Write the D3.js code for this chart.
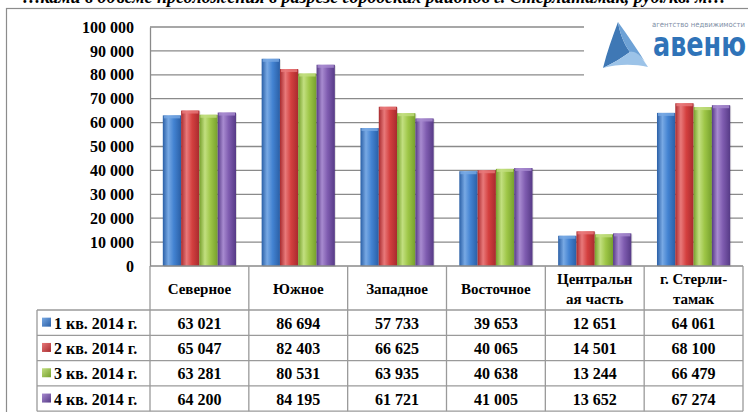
<!DOCTYPE html>
<html>
<head>
<meta charset="utf-8">
<script src="https://cdn.jsdelivr.net/npm/d3@7"></script>
<style>
  body { margin: 0; background: #fff; }
  svg { display: block; }
  text { font-family: "Liberation Serif", "Times New Roman", serif; font-weight: bold; fill: #000; }
</style>
</head>
<body>
<svg id="chart" width="748" height="412"></svg>
<script>
// данные графика
const districts = ["Северное", "Южное", "Западное", "Восточное", "Центральная часть", "г. Стерлитамак"];
const districtLines = [["Северное"], ["Южное"], ["Западное"], ["Восточное"], ["Центральн", "ая часть"], ["г. Стерли-", "тамак"]];
const quarters = ["1 кв. 2014 г.", "2 кв. 2014 г.", "3 кв. 2014 г.", "4 кв. 2014 г."];
const q1 = [63021, 86694, 57733, 39653, 12651, 64061];
const q2 = [65047, 82403, 66625, 40065, 14501, 68100];
const q3 = [63281, 80531, 63935, 40638, 13244, 66479];
const q4 = [64200, 84195, 61721, 41005, 13652, 67274];
const yTicks = [0, 10000, 20000, 30000, 40000, 50000, 60000, 70000, 80000, 90000, 100000];

const values = [q1, q2, q3, q4];
const colors = [
  { dark: "#2a5fa6", mid: "#4383d2", light: "#78a9e4" },
  { dark: "#a82a2e", mid: "#d4403f", light: "#e8797a" },
  { dark: "#76a02c", mid: "#9ec647", light: "#c2df80" },
  { dark: "#563a86", mid: "#7f5cb0", light: "#a88bd0" }
];

const svg = d3.select("#chart");
const fmt = v => d3.format(",")(v).replace(/,/g, " ");

// рамка и обрезанный заголовок
svg.append("text")
  .attr("x", 374).attr("y", 3)
  .attr("text-anchor", "middle")
  .style("font-style", "italic")
  .style("font-size", "18px")
  .text("…ками в объеме предложения в разрезе городских районов г. Стерлитамак, руб./кв. м…");

svg.append("rect")
  .attr("x", 6.5).attr("y", 8.5).attr("width", 760).attr("height", 420)
  .attr("fill", "#fff").attr("stroke", "#8c8c8c").attr("stroke-width", 1.2);

// области
const plotLeft = 150, plotRight = 743, plotTop = 27, plotBottom = 266;
const headTop = 266, headBottom = 310, rowH = 25.3, labelLeft = 37;

const x0 = d3.scaleBand().domain(districts).range([plotLeft, plotRight]).padding(0);
const x1 = d3.scaleBand().domain(d3.range(quarters.length)).range([0, x0.bandwidth()])
  .paddingInner(0).paddingOuter(0.7);
const y = d3.scaleLinear().domain([0, 100000]).range([plotBottom, plotTop]);

// градиенты
const defs = svg.append("defs");
colors.forEach((c, i) => {
  const g = defs.append("linearGradient").attr("id", "bar" + i)
    .attr("x1", "0%").attr("x2", "100%").attr("y1", "0%").attr("y2", "0%");
  g.append("stop").attr("offset", "0%").attr("stop-color", c.dark);
  g.append("stop").attr("offset", "30%").attr("stop-color", c.light);
  g.append("stop").attr("offset", "60%").attr("stop-color", c.mid);
  g.append("stop").attr("offset", "100%").attr("stop-color", c.dark);
  const k = defs.append("linearGradient").attr("id", "key" + i)
    .attr("x1", "0%").attr("x2", "100%").attr("y1", "0%").attr("y2", "100%");
  k.append("stop").attr("offset", "0%").attr("stop-color", c.light);
  k.append("stop").attr("offset", "100%").attr("stop-color", c.dark);
});

// сетка
svg.append("g")
  .selectAll("line").data(yTicks.filter(d => d > 0)).join("line")
  .attr("x1", plotLeft).attr("x2", plotRight)
  .attr("y1", d => y(d)).attr("y2", d => y(d))
  .attr("stroke", "#8a8a8a").attr("stroke-width", 1.3);

// ось Y
const yAxis = svg.append("g")
  .attr("transform", `translate(${plotLeft},0)`)
  .call(d3.axisLeft(y).tickValues(yTicks).tickSize(0).tickPadding(16).tickFormat(fmt));
yAxis.select(".domain").attr("stroke", "#8a8a8a").attr("stroke-width", 1.3);
yAxis.selectAll("text").style("font-size", "16px")
  .style("font-family", "'Liberation Serif', serif").style("font-weight", "bold");

// столбцы
const groups = svg.append("g").selectAll("g").data(districts).join("g")
  .attr("transform", d => `translate(${x0(d)},0)`);

groups.each(function (d, di) {
  const g = d3.select(this);
  values.forEach((series, si) => {
    const bx = x1(si), bw = x1.bandwidth(), by = y(series[di]);
    g.append("rect")
      .attr("x", bx + 1).attr("y", by + 1)
      .attr("width", bw).attr("height", plotBottom - by)
      .attr("fill", "#000").attr("opacity", 0.12);
    g.append("rect")
      .attr("x", bx).attr("y", by)
      .attr("width", bw).attr("height", plotBottom - by)
      .attr("fill", `url(#bar${si})`);
    g.append("rect")
      .attr("x", bx + 1).attr("y", by)
      .attr("width", bw - 2).attr("height", 3)
      .attr("fill", colors[si].light).attr("opacity", 0.8);
  });
});

// логотип
const logo = svg.append("g");
logo.append("rect").attr("x", 584).attr("y", 17).attr("width", 164).attr("height", 62).attr("fill", "#fff");
logo.append("path")
  .attr("d", "M618,22 C612,38 607,52 603,68 C613,63 622,58 630,52 C624,44 620,34 618,22 Z")
  .attr("fill", "#3f78b5");
logo.append("path")
  .attr("d", "M603,68 C618,64 634,64 648,67 C641,56 634,48 630,52 C622,58 613,63 603,68 Z")
  .attr("fill", "#9cc3e8");
logo.append("path")
  .attr("d", "M618,22 C628,36 638,50 648,67 C643,58 636,50 630,52 C624,44 620,34 618,22 Z")
  .attr("fill", "#6ea2d6");
logo.append("text")
  .attr("x", 652).attr("y", 27)
  .attr("textLength", 93).attr("lengthAdjust", "spacingAndGlyphs")
  .style("font-family", "'DejaVu Sans', sans-serif").style("font-weight", "normal")
  .style("font-size", "7.5px").style("fill", "#7f8fa6")
  .text("агентство недвижимости");
logo.append("text")
  .attr("x", 653).attr("y", 56)
  .attr("textLength", 93).attr("lengthAdjust", "spacingAndGlyphs")
  .style("font-family", "'DejaVu Sans', sans-serif").style("font-weight", "bold")
  .style("font-size", "34px").style("fill", "#2f73b8")
  .text("авеню");

// таблица данных
const table = svg.append("g");
const lineColor = "#9a9a9a";
const tableBottom = headBottom + rowH * quarters.length;

// горизонтальные линии
table.append("line").attr("x1", plotLeft).attr("x2", plotRight).attr("y1", headTop).attr("y2", headTop)
  .attr("stroke", "#8a8a8a").attr("stroke-width", 1.6);
d3.range(quarters.length + 1).forEach(i => {
  const yy = headBottom + i * rowH;
  table.append("line").attr("x1", labelLeft).attr("x2", plotRight).attr("y1", yy).attr("y2", yy)
    .attr("stroke", lineColor).attr("stroke-width", 1.3);
});
// вертикальные линии
table.append("line").attr("x1", labelLeft).attr("x2", labelLeft).attr("y1", headBottom).attr("y2", tableBottom)
  .attr("stroke", lineColor).attr("stroke-width", 1.3);
table.selectAll("line.col").data(districts.concat(["end"])).join("line").attr("class", "col")
  .attr("x1", (d, i) => plotLeft + i * x0.bandwidth()).attr("x2", (d, i) => plotLeft + i * x0.bandwidth())
  .attr("y1", headTop).attr("y2", tableBottom)
  .attr("stroke", lineColor).attr("stroke-width", 1.3);

// заголовки районов
districtLines.forEach((lines, i) => {
  const cx = x0(districts[i]) + x0.bandwidth() / 2;
  const t = table.append("text").attr("text-anchor", "middle").style("font-size", "15px");
  const start = lines.length === 1 ? 294 : 284;
  lines.forEach((ln, li) => {
    t.append("tspan").attr("x", cx).attr("y", start + li * 20).text(ln);
  });
});

// строки значений
quarters.forEach((q, si) => {
  const yy = headBottom + si * rowH;
  table.append("rect")
    .attr("x", 42).attr("y", yy + rowH / 2 - 5).attr("width", 9).attr("height", 9)
    .attr("fill", `url(#key${si})`);
  table.append("text")
    .attr("x", 54).attr("y", yy + rowH / 2 + 6)
    .style("font-size", "16px").text(q);
  values[si].forEach((v, di) => {
    table.append("text")
      .attr("x", x0(districts[di]) + x0.bandwidth() / 2)
      .attr("y", yy + rowH / 2 + 6)
      .attr("text-anchor", "middle")
      .style("font-size", "16px").text(fmt(v));
  });
});
</script>
</body>
</html>
